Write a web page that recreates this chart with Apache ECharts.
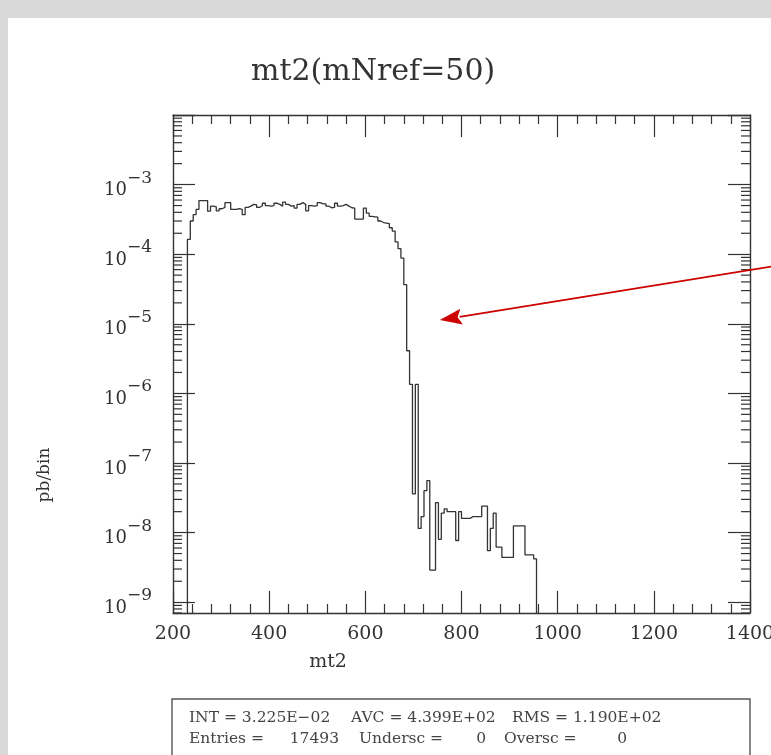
<!DOCTYPE html>
<html>
<head>
<meta charset="utf-8">
<script src="https://cdn.jsdelivr.net/npm/echarts@6/dist/echarts.min.js"></script>
<style>
html,body{margin:0;padding:0;background:#d9d9d9;width:771px;height:755px;overflow:hidden;}
#panel{position:absolute;left:8px;top:18px;width:763px;height:737px;background:#ffffff;}
#chart{position:absolute;left:0;top:0;width:771px;height:755px;}
</style>
</head>
<body>
<div id="panel"></div>
<div id="chart"></div>
<script>
// ---------------- data ----------------
const titleText = 'mt2(mNref=50)';
const xAxisName = 'mt2';
const yAxisName = 'pb/bin';
const xMin = 200, xMax = 1400, xStep = 200;
const yMin = 7e-10, yMax = 1e-2;
const yLabelMaxExp = -3;
const binStart = 230;
const binWidth = 6;
// pb/bin per bin (bins of width 6 starting at 230)
const binValues = [
  1.63e-4, 3.0e-4, 3.7e-4, 4.4e-4, 5.9e-4, 5.9e-4, 5.9e-4, 4.15e-4, 4.9e-4, 4.8e-4,
  4.2e-4, 4.5e-4, 4.7e-4, 5.5e-4, 5.5e-4, 4.4e-4, 4.4e-4, 4.5e-4, 4.4e-4, 3.7e-4,
  4.7e-4, 4.9e-4, 5.2e-4, 5.1e-4, 4.7e-4, 5.0e-4, 5.4e-4, 5.0e-4, 4.9e-4, 5.0e-4,
  5.4e-4, 5.2e-4, 4.9e-4, 5.6e-4, 5.2e-4, 4.9e-4, 5.0e-4, 4.6e-4, 5.2e-4, 5.5e-4,
  5.2e-4, 4.2e-4, 5.0e-4, 4.9e-4, 5.0e-4, 5.5e-4, 5.3e-4, 5.3e-4, 4.9e-4, 4.65e-4,
  4.7e-4, 5.4e-4, 4.9e-4, 5.0e-4, 5.2e-4, 4.9e-4, 4.65e-4, 4.6e-4, 3.2e-4, 3.2e-4,
  3.2e-4, 4.6e-4, 3.9e-4, 3.5e-4, 3.45e-4, 3.4e-4, 3.0e-4, 2.85e-4, 2.8e-4, 2.75e-4,
  2.4e-4, 2.15e-4, 1.5e-4, 1.2e-4, 8.8e-5, 3.65e-5, 4.1e-6, 1.35e-6, 3.6e-8, 1.35e-6,
  1.15e-8, 1.7e-8, 4.0e-8, 5.6e-8, 2.9e-9, 2.9e-9, 2.7e-8, 8.0e-9, 1.9e-8, 2.2e-8,
  2.0e-8, 2.0e-8, 2.0e-8, 7.7e-9, 2.0e-8, 1.6e-8, 1.6e-8, 1.6e-8, 1.7e-8, 1.7e-8,
  1.7e-8, 1.7e-8, 2.4e-8, 2.4e-8, 5.5e-9, 1.15e-8, 1.9e-8, 6.2e-9, 6.2e-9, 4.4e-9,
  4.4e-9, 4.4e-9, 4.4e-9, 1.25e-8, 1.25e-8, 1.25e-8, 1.25e-8, 4.8e-9, 4.8e-9, 4.8e-9,
  4.2e-9
];
// annotation arrow (tail, head) in data coordinates
const arrowTail = [1460, 6.9e-5];
const arrowHead = [755, 1.13e-5];
// statistics box text
const statsRow1 = ['INT = 3.225E\u221202', 'AVC = 4.399E+02', 'RMS = 1.190E+02'];
const statsRow2 = ['Entries =', '17493', 'Undersc =', '0', 'Oversc =', '0'];

// ---------------- build ----------------
const FONT = 'DejaVu Serif';
const INK = '#333333';

const histData = [[binStart, yMin]];
binValues.forEach(function (v, i) { histData.push([binStart + i * binWidth, v]); });
histData.push([binStart + binValues.length * binWidth, yMin]);

// minor log ticks 2..9 x 10^n
const minorY = [];
for (let n = -10; n <= -3; n++) {
  for (let k = 2; k <= 9; k++) {
    const v = k * Math.pow(10, n);
    if (v > yMin && v < yMax) minorY.push([xMin, v]);
  }
}

function logLabel(v) {
  const e = Math.log10(v);
  const r = Math.round(e);
  if (Math.abs(e - r) > 1e-6 || r > yLabelMaxExp) return '';
  return '{b|10}{s|' + (r < 0 ? '\u2212' : '') + Math.abs(r) + '}';
}

const axisLineStyle = { color: INK, width: 1.4 };
function xAx(pos, showLabel) {
  return {
    type: 'value', position: pos, min: xMin, max: xMax, interval: xStep,
    axisLine: { show: true, onZero: false, lineStyle: axisLineStyle },
    axisTick: { show: true, inside: true, length: 22, lineStyle: { color: INK, width: 1.2 } },
    minorTick: { show: true, splitNumber: 5, length: 9, lineStyle: { color: INK, width: 1.2 } },
    axisLabel: { show: showLabel, fontFamily: FONT, fontSize: 19, color: INK, margin: 12,
      formatter: function (v) { return String(v); } },
    splitLine: { show: false }, minorSplitLine: { show: false }
  };
}
function yAx(pos, showLabel) {
  return {
    type: 'log', logBase: 10, position: pos, min: yMin, max: yMax,
    axisLine: { show: true, onZero: false, lineStyle: axisLineStyle },
    axisTick: { show: true, inside: true, length: 22, lineStyle: { color: INK, width: 1.2 } },
    axisLabel: {
      show: showLabel, margin: 21, formatter: logLabel,
      rich: {
        b: { fontFamily: FONT, fontSize: 18, color: INK, lineHeight: 30, verticalAlign: 'bottom' },
        s: { fontFamily: FONT, fontSize: 17, color: INK, lineHeight: 16, verticalAlign: 'top' }
      }
    },
    splitLine: { show: false }
  };
}

const statFont = '15.5px "DejaVu Serif"';
const statInk = '#444444';
function statText(x, y, text, align) {
  return { type: 'text', x: x, y: y, style: { text: text, font: statFont, fill: statInk, align: align || 'left', verticalAlign: 'middle' } };
}

const chart = echarts.init(document.getElementById('chart'), null, { renderer: 'canvas' });
const option = {
  animation: false,
  backgroundColor: 'transparent',
  title: {
    text: titleText, left: 246, top: 52,
    textStyle: { fontFamily: FONT, fontSize: 30, fontWeight: 'normal', color: INK }
  },
  grid: { left: 173, right: 21, top: 115, bottom: 142, show: false, containLabel: false, outerBoundsMode: 'none' },
  xAxis: [xAx('bottom', true), xAx('top', false)],
  yAxis: [yAx('left', true), yAx('right', false)],
  series: [
    {
      type: 'line', step: 'end', data: histData, xAxisIndex: 0, yAxisIndex: 0,
      showSymbol: false, symbol: 'none', clip: true,
      lineStyle: { color: INK, width: 1.3 }, z: 3
    },
    {
      type: 'custom', data: minorY, xAxisIndex: 0, yAxisIndex: 0,
      encode: { x: 0, y: 1 }, silent: true,
      renderItem: function (params, api) {
        const v = api.value(1);
        const pL = api.coord([xMin, v]);
        const pR = api.coord([xMax, v]);
        const len = 9;
        return {
          type: 'group', children: [
            { type: 'line', shape: { x1: pL[0], y1: pL[1], x2: pL[0] + len, y2: pL[1] }, style: { stroke: INK, lineWidth: 1.2 } },
            { type: 'line', shape: { x1: pR[0] - len, y1: pR[1], x2: pR[0], y2: pR[1] }, style: { stroke: INK, lineWidth: 1.2 } }
          ]
        };
      }
    },
    {
      type: 'custom', data: [[arrowTail[0], arrowTail[1], arrowHead[0], arrowHead[1]]],
      xAxisIndex: 0, yAxisIndex: 0, encode: { x: [0, 2], y: [1, 3] }, clip: false, silent: true, z: 10,
      renderItem: function (params, api) {
        const p0 = api.coord([api.value(0), api.value(1)]);
        const p1 = api.coord([api.value(2), api.value(3)]);
        const dx = p1[0] - p0[0], dy = p1[1] - p0[1];
        const L = Math.sqrt(dx * dx + dy * dy);
        const ux = dx / L, uy = dy / L;
        const hl = 22, hw = 8;
        const bx = p1[0] - ux * hl, by = p1[1] - uy * hl;
        return {
          type: 'group', children: [
            { type: 'line', shape: { x1: p0[0], y1: p0[1], x2: bx + ux * 2, y2: by + uy * 2 }, style: { stroke: '#cc0000', lineWidth: 1.8 } },
            { type: 'polygon', shape: { points: [[p1[0], p1[1]], [bx - uy * hw, by + ux * hw], [bx + ux * 4, by + uy * 4], [bx + uy * hw, by - ux * hw]] }, style: { fill: '#cc0000' } }
          ]
        };
      }
    }
  ],
  graphic: [
    { type: 'text', x: 45, y: 475, rotation: Math.PI / 2,
      style: { text: yAxisName, font: '17px "DejaVu Serif"', fill: INK, align: 'center', verticalAlign: 'middle' } },
    { type: 'text', x: 328, y: 662,
      style: { text: xAxisName, font: '19px "DejaVu Serif"', fill: INK, align: 'center', verticalAlign: 'middle' } },
    { type: 'rect', shape: { x: 172, y: 699, width: 578, height: 90 },
      style: { fill: '#ffffff', stroke: '#555555', lineWidth: 1.4 } },
    statText(189, 718, statsRow1[0]),
    statText(351, 718, statsRow1[1]),
    statText(512, 718, statsRow1[2]),
    statText(189, 739, statsRow2[0]),
    statText(339, 739, statsRow2[1], 'right'),
    statText(359, 739, statsRow2[2]),
    statText(486, 739, statsRow2[3], 'right'),
    statText(504, 739, statsRow2[4]),
    statText(627, 739, statsRow2[5], 'right')
  ]
};
chart.setOption(option);
</script>
</body>
</html>
